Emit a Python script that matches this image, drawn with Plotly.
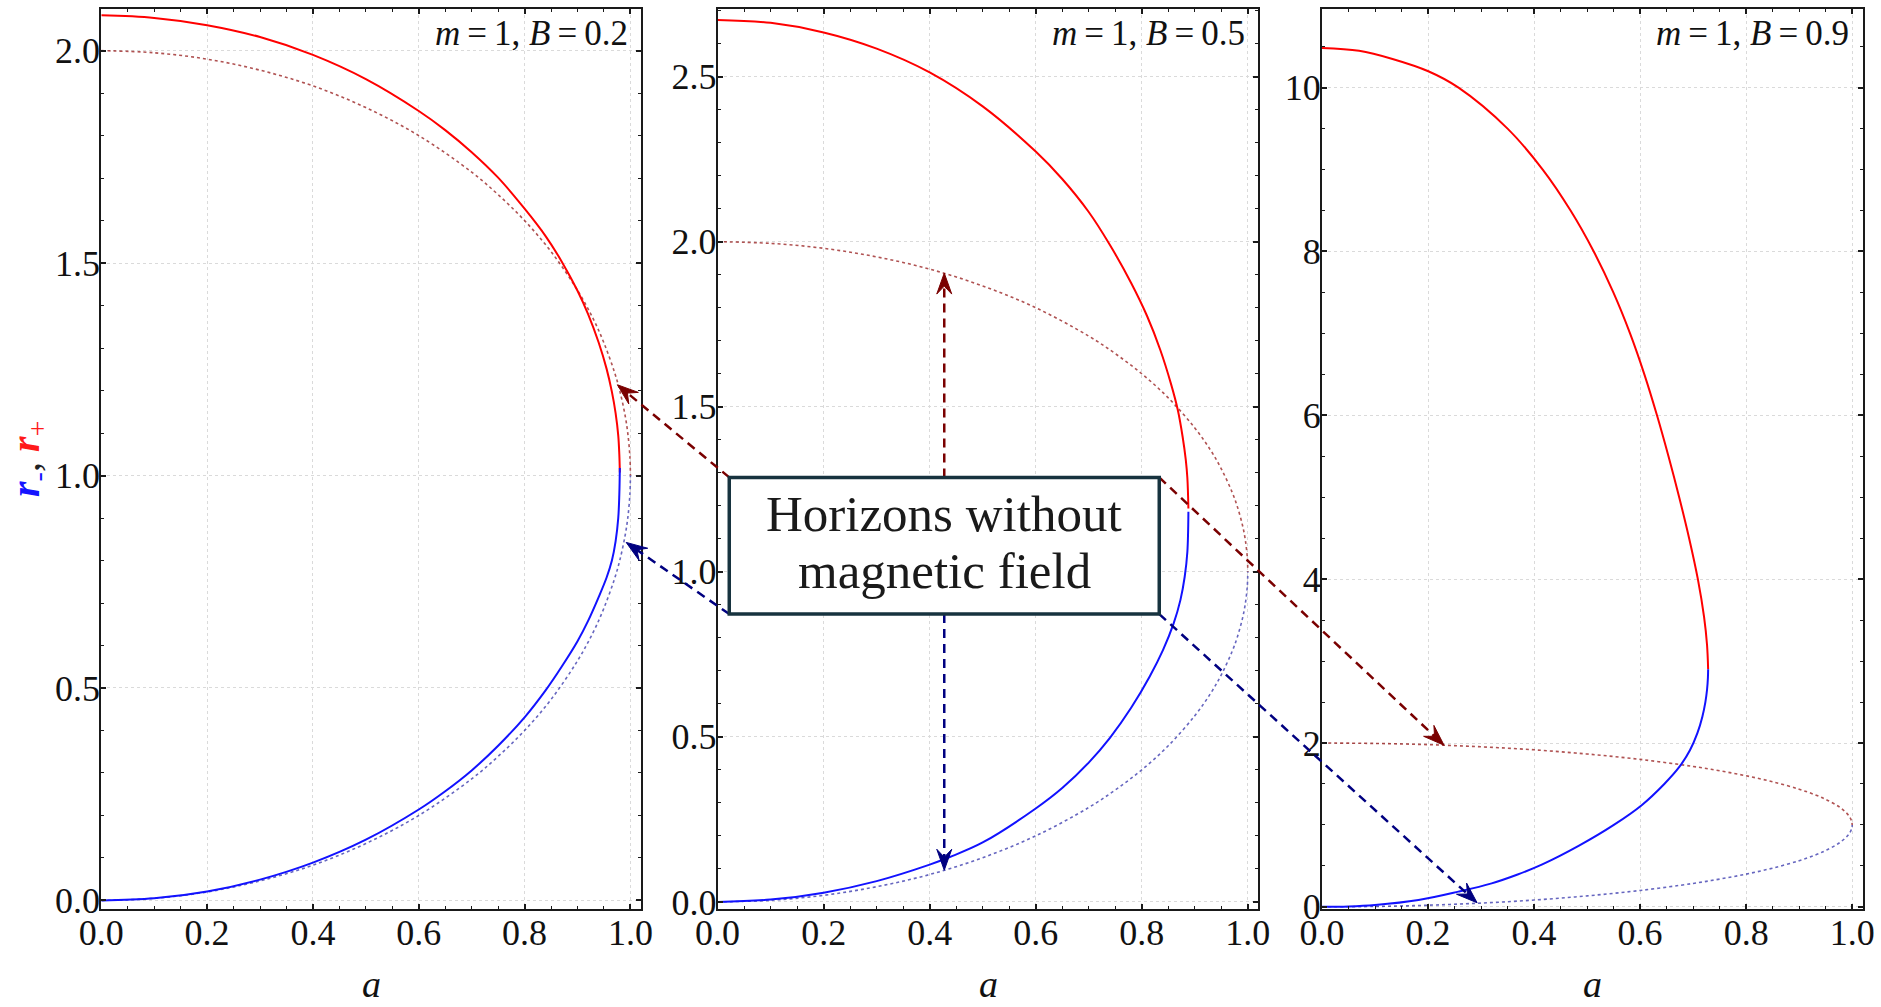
import math
import plotly.graph_objects as go

FIG_W, FIG_H = 1881, 1007
SERIF = "Liberation Serif, Times New Roman, serif"

# ---------------------------------------------------------------------------
# Horizons without magnetic field (Kerr, m = 1): outer r+ and inner r-
kerr_a = [0.0, 0.1, 0.2, 0.3, 0.4, 0.5, 0.6, 0.7, 0.75, 0.8, 0.85, 0.9,
          0.93, 0.95, 0.97, 0.98, 0.99, 0.995, 0.999, 1.0]
kerr_rp = [2.0, 1.995, 1.980, 1.954, 1.917, 1.866, 1.8, 1.714, 1.661, 1.6,
           1.527, 1.436, 1.368, 1.312, 1.243, 1.199, 1.141, 1.1, 1.045, 1.0]
kerr_rm = [0.0, 0.005, 0.020, 0.046, 0.083, 0.134, 0.2, 0.286, 0.339, 0.4,
           0.473, 0.564, 0.632, 0.688, 0.757, 0.801, 0.859, 0.9, 0.955, 1.0]

# Horizons with magnetic field, m = 1, B = 0.2
b02_ap = [0.0, 0.1, 0.2, 0.3, 0.4, 0.5, 0.6, 0.65, 0.7, 0.75, 0.8, 0.84,
          0.87, 0.9, 0.92, 0.94, 0.955, 0.965, 0.972, 0.977, 0.979, 0.98]
b02_rp = [2.083, 2.077, 2.060, 2.032, 1.990, 1.933, 1.858, 1.813, 1.761,
          1.701, 1.628, 1.563, 1.504, 1.435, 1.380, 1.313, 1.251, 1.197,
          1.147, 1.094, 1.05, 1.007]
b02_am = [0.0, 0.1, 0.2, 0.3, 0.4, 0.5, 0.6, 0.65, 0.7, 0.75, 0.8, 0.84,
          0.87, 0.9, 0.92, 0.94, 0.955, 0.965, 0.972, 0.977, 0.979, 0.98]
b02_rm = [0.0, 0.005, 0.021, 0.049, 0.089, 0.143, 0.214, 0.257, 0.306,
          0.364, 0.431, 0.495, 0.55, 0.61, 0.658, 0.714, 0.76, 0.80, 0.845,
          0.90, 0.955, 1.018]

# m = 1, B = 0.5
b05_ap = [0.0, 0.1, 0.2, 0.3, 0.4, 0.5, 0.6, 0.65, 0.7, 0.74, 0.78, 0.81,
          0.835, 0.855, 0.868, 0.877, 0.883, 0.886, 0.888]
b05_rp = [2.672, 2.663, 2.634, 2.585, 2.513, 2.41, 2.273, 2.19, 2.09, 1.99,
          1.875, 1.775, 1.672, 1.57, 1.49, 1.41, 1.34, 1.285, 1.192]
b05_am = [0.0, 0.1, 0.2, 0.3, 0.4, 0.438, 0.5, 0.6, 0.65, 0.7, 0.74, 0.78,
          0.815, 0.84, 0.86, 0.873, 0.881, 0.886, 0.888]
b05_rm = [0.0, 0.007, 0.028, 0.063, 0.113, 0.136, 0.18, 0.283, 0.345, 0.422,
          0.497, 0.588, 0.683, 0.763, 0.843, 0.915, 0.985, 1.06, 1.182]

# m = 1, B = 0.9
b09_ap = [0.0, 0.07, 0.133, 0.2005, 0.2575, 0.35, 0.4163, 0.4688, 0.5125,
          0.5495, 0.581, 0.608, 0.6318, 0.6535, 0.6737, 0.6924, 0.7089,
          0.7206, 0.7262, 0.7283]
b09_rp = [10.485, 10.45, 10.35, 10.2, 10.0, 9.5, 9.0, 8.5, 8.0, 7.5, 7.0,
          6.5, 6.0, 5.5, 5.0, 4.5, 4.0, 3.54, 3.2, 2.9]
b09_am = [0.0, 0.05, 0.1, 0.182, 0.257, 0.32, 0.369, 0.4155, 0.4848, 0.5504,
          0.6035, 0.6456, 0.6743, 0.6942, 0.708, 0.7174, 0.7231, 0.7262,
          0.7279, 0.7283]
b09_rm = [0.0, 0.005, 0.023, 0.084, 0.186, 0.287, 0.395, 0.518, 0.747, 1.0,
          1.244, 1.5, 1.711, 1.915, 2.12, 2.322, 2.5, 2.65, 2.8, 2.9]

field_values = [0.2, 0.5, 0.9]
outer_a = [b02_ap, b05_ap, b09_ap]
outer_r = [b02_rp, b05_rp, b09_rp]
inner_a = [b02_am, b05_am, b09_am]
inner_r = [b02_rm, b05_rm, b09_rm]

# ---------------------------------------------------------------------------
# axes setup
x_range = [0.0, 1.02]
y_ranges = [[-0.019, 2.098], [-0.02, 2.705], [-0.02, 10.96]]
y_major = [0.5, 0.5, 2]
y_minor = [0.1, 0.1, 0.5]
y_formats = [".1f", ".1f", "d"]

# subplot frames in pixels
frames_x = [(101.3, 641.0), (717.6, 1258.4), (1322.0, 1862.8)]
frame_top, frame_bottom = 9.0, 908.5

RED, BLUE = "#ff0000", "#1212ff"
KERR_OUT, KERR_IN = "rgba(139,0,0,0.68)", "rgba(0,0,150,0.6)"
DARKRED, NAVY = "#7a0000", "#000080"
FRAME = "#1a1a1a"


def to_px(k, a, r):
    """data point of panel k -> page pixel (x right, y down)"""
    x0, x1 = frames_x[k]
    ylo, yhi = y_ranges[k]
    X = x0 + (a - x_range[0]) / (x_range[1] - x_range[0]) * (x1 - x0)
    Y = frame_bottom - (r - ylo) / (yhi - ylo) * (frame_bottom - frame_top)
    return X, Y


def px_to_paper(X, Y):
    return X / FIG_W, 1 - Y / FIG_H


fig = go.Figure()

for k in range(3):
    xa = "x" if k == 0 else f"x{k + 1}"
    ya = "y" if k == 0 else f"y{k + 1}"
    fig.add_trace(go.Scatter(x=kerr_a, y=kerr_rp, mode="lines", xaxis=xa, yaxis=ya,
                             line=dict(color=KERR_OUT, width=1.6, dash="3px,3px", shape="spline"),
                             showlegend=False, hoverinfo="skip"))
    fig.add_trace(go.Scatter(x=kerr_a, y=kerr_rm, mode="lines", xaxis=xa, yaxis=ya,
                             line=dict(color=KERR_IN, width=1.6, dash="3px,3px", shape="spline"),
                             showlegend=False, hoverinfo="skip"))
    fig.add_trace(go.Scatter(x=outer_a[k], y=outer_r[k], mode="lines", xaxis=xa, yaxis=ya,
                             line=dict(color=RED, width=2, shape="spline"),
                             showlegend=False, hoverinfo="skip"))
    fig.add_trace(go.Scatter(x=inner_a[k], y=inner_r[k], mode="lines", xaxis=xa, yaxis=ya,
                             line=dict(color=BLUE, width=2, shape="spline"),
                             showlegend=False, hoverinfo="skip"))

tick_font = dict(family=SERIF, size=36, color="#111111")
common = dict(ticks="inside", ticklen=5, tickwidth=1.5, tickcolor=FRAME,
              showline=True, linecolor=FRAME, linewidth=2, mirror="allticks",
              showgrid=True, gridcolor="#dadada", griddash="dot", gridwidth=1,
              zeroline=False, automargin=False, fixedrange=True, tickfont=tick_font)

layout_axes = {}
for k in range(3):
    sx = "xaxis" if k == 0 else f"xaxis{k + 1}"
    sy = "yaxis" if k == 0 else f"yaxis{k + 1}"
    x0, x1 = frames_x[k]
    layout_axes[sx] = dict(
        domain=[x0 / FIG_W, x1 / FIG_W], range=x_range, anchor="y" if k == 0 else f"y{k + 1}",
        tickmode="linear", tick0=0, dtick=0.2, tickformat=".1f", ticklabelstandoff=-9,
        minor=dict(tickmode="linear", tick0=0, dtick=0.05, ticks="inside", ticklen=3,
                   tickwidth=1, tickcolor=FRAME, showgrid=False),
        **common)
    layout_axes[sy] = dict(
        domain=[1 - frame_bottom / FIG_H, 1 - frame_top / FIG_H], range=y_ranges[k],
        anchor="x" if k == 0 else f"x{k + 1}", ticklabelstandoff=-8,
        tickmode="linear", tick0=0, dtick=y_major[k], tickformat=y_formats[k],
        minor=dict(tickmode="linear", tick0=0, dtick=y_minor[k], ticks="inside", ticklen=3,
                   tickwidth=1, tickcolor=FRAME, showgrid=False),
        **common)

annotations = []
shapes = []

# panel labels and x-axis titles
for k in range(3):
    x0, x1 = frames_x[k]
    annotations.append(dict(
        x=(x1 - 11.5) / FIG_W, y=1 - 34 / FIG_H, xref="paper", yref="paper",
        xanchor="right", yanchor="middle", showarrow=False,
        text=f"<i>m</i>\u2009=\u20091, <i>B</i>\u2009=\u2009{field_values[k]}",
        font=dict(family=SERIF, size=35, color="#111111")))
    annotations.append(dict(
        x=(x0 + x1) / 2 / FIG_W, y=0.0, xref="paper", yref="paper",
        xanchor="center", yanchor="bottom", showarrow=False, text="<i>a</i>",
        font=dict(family=SERIF, size=38, color="#111111")))

# y-axis title
annotations.append(dict(
    x=28 / FIG_W, y=1 - 459 / FIG_H, xref="paper", yref="paper", textangle=-90,
    xanchor="center", yanchor="middle", showarrow=False,
    text=("<span style='color:#1414ff'><b><i>r</i></b><sub>-</sub></span>"
          "<span style='color:#222222'>, </span>"
          "<span style='color:#ff1a1a'><b><i>r</i></b><sub>+</sub></span>"),
    font=dict(family=SERIF, size=40)))

# callout box in panel-2 coordinates
box_a0, box_a1, box_r0, box_r1 = 0.022, 0.833, 0.872, 1.286
box_mid = (box_a0 + box_a1) / 2

pointers = [
    ((box_a0, box_r1), 0, (0.9754, 1.2136), DARKRED),
    ((box_a0, box_r0), 0, (0.992, 0.8426), NAVY),
    ((box_mid, box_r1), 1, (box_mid, 1.905), DARKRED),
    ((box_mid, box_r0), 1, (box_mid, 0.096), NAVY),
    ((box_a1, box_r1), 2, (0.2302, 1.973), DARKRED),
    ((box_a1, box_r0), 2, (0.2925, 0.05), NAVY),
]

HEAD_LEN, HEAD_HALF, NOTCH = 21.0, 7.5, 0.62


def paper_path(points):
    parts = []
    for i, (X, Y) in enumerate(points):
        px, py = px_to_paper(X, Y)
        parts.append(("M" if i == 0 else "L") + f"{px:.6f},{py:.6f}")
    return " ".join(parts) + " Z"


for (sa, sr), k, (ta, tr), col in pointers:
    SX, SY = to_px(1, sa, sr)
    TX, TY = to_px(k, ta, tr)
    L = math.hypot(TX - SX, TY - SY)
    ux, uy = (TX - SX) / L, (TY - SY) / L      # direction of travel
    nx, ny = -uy, ux
    EX, EY = TX - 0.5 * HEAD_LEN * ux, TY - 0.5 * HEAD_LEN * uy
    p0 = px_to_paper(SX, SY)
    p1 = px_to_paper(EX, EY)
    shapes.append(dict(type="line", xref="paper", yref="paper",
                       x0=p0[0], y0=p0[1], x1=p1[0], y1=p1[1], layer="above",
                       line=dict(color=col, width=2.5, dash="9px,6px")))
    BX, BY = TX - HEAD_LEN * ux, TY - HEAD_LEN * uy
    head = [(TX, TY),
            (BX + HEAD_HALF * nx, BY + HEAD_HALF * ny),
            (TX - NOTCH * HEAD_LEN * ux, TY - NOTCH * HEAD_LEN * uy),
            (BX - HEAD_HALF * nx, BY - HEAD_HALF * ny)]
    shapes.append(dict(type="path", xref="paper", yref="paper", path=paper_path(head),
                       fillcolor=col, line=dict(color=col, width=1), layer="above"))

shapes.append(dict(type="rect", xref="x2", yref="y2", x0=box_a0, x1=box_a1,
                   y0=box_r0, y1=box_r1, layer="above", fillcolor="white",
                   line=dict(color="#17333f", width=3.5)))

for line_text, line_r in (("Horizons without", 1.176), ("magnetic field", 1.003)):
    annotations.append(dict(
        x=box_mid, y=line_r, xref="x2", yref="y2", xanchor="center", yanchor="middle",
        showarrow=False, text=line_text,
        font=dict(family=SERIF, size=51, color="#1a1a1a")))

fig.update_layout(
    width=FIG_W, height=FIG_H, template="none",
    margin=dict(l=0, r=0, t=0, b=0, autoexpand=False),
    paper_bgcolor="white", plot_bgcolor="white",
    showlegend=False, annotations=annotations, shapes=shapes,
    **layout_axes)

fig.write_html("out.html", config={"displayModeBar": False})
